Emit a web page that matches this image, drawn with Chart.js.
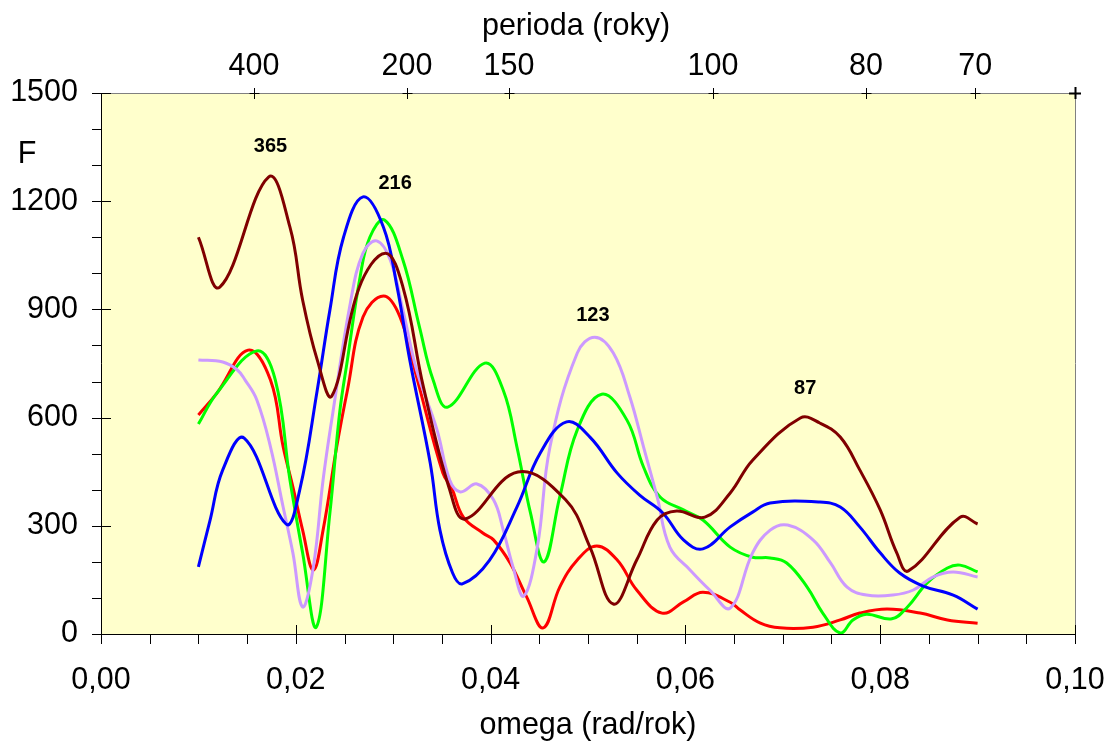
<!DOCTYPE html>
<html>
<head>
<meta charset="utf-8">
<script src="https://cdn.jsdelivr.net/npm/chart.js@4/dist/chart.umd.min.js"></script>
<style>
html, body { margin: 0; padding: 0; background: #fff; }
canvas { display: block; }
</style>
</head>
<body>
<canvas id="myChart" width="1109" height="746"></canvas>
<script>
// omega (rad/rok) and F for each curve
var redX = [0.0100,0.0119,0.0151,0.0174,0.0187,0.0197,0.0207,0.0218,0.0228,0.0242,0.0253,0.0269,0.0290,0.0307,0.0324,0.0351,0.0360,0.0372,0.0392,0.0403,0.0420,0.0437,0.0454,0.0471,0.0489,0.0509,0.0530,0.0550,0.0576,0.0598,0.0618,0.0646,0.0656,0.0677,0.0697,0.0731,0.0759,0.0779,0.0807,0.0841,0.0869,0.0900];
var redF = [607,668,787,704,519,408,288,177,288,519,676,879,937,879,713,446,405,324,280,261,197,103,17,130,205,244,205,122,58,89,116,88,67,30,17,19,39,58,69,58,39,30];

var greenX = [0.0100,0.0119,0.0160,0.0179,0.0194,0.0207,0.0221,0.0235,0.0245,0.0253,0.0266,0.0276,0.0291,0.0310,0.0327,0.0341,0.0356,0.0394,0.0413,0.0427,0.0441,0.0455,0.0471,0.0489,0.0514,0.0540,0.0557,0.0574,0.0598,0.0618,0.0646,0.0669,0.0687,0.0704,0.0725,0.0741,0.0759,0.0772,0.0786,0.0812,0.0828,0.0848,0.0869,0.0882,0.0900];
var greenF = [582,668,785,704,427,225,19,335,613,760,990,1100,1148,1037,851,704,629,751,676,519,335,200,380,566,665,593,463,380,344,316,241,213,211,197,130,58,3,39,55,42,75,141,183,191,172];

var lilacX = [0.0100,0.0125,0.0140,0.0148,0.0160,0.0174,0.0187,0.0197,0.0207,0.0218,0.0228,0.0238,0.0256,0.0269,0.0283,0.0297,0.0310,0.0324,0.0345,0.0358,0.0369,0.0386,0.0403,0.0413,0.0423,0.0434,0.0448,0.0461,0.0489,0.0507,0.0526,0.0543,0.0557,0.0571,0.0584,0.0605,0.0625,0.0646,0.0669,0.0687,0.0705,0.0731,0.0749,0.0766,0.0786,0.0813,0.0834,0.0854,0.0875,0.0900];
var lilacF = [760,754,732,704,649,519,352,225,75,186,427,613,918,1056,1090,1037,898,732,566,427,394,416,372,288,186,105,241,519,779,823,779,657,519,380,241,177,122,72,225,288,302,261,197,130,108,108,122,158,172,158];

var blueX = [0.0100,0.0112,0.0125,0.0147,0.0190,0.0204,0.0222,0.0235,0.0249,0.0269,0.0290,0.0304,0.0317,0.0338,0.0348,0.0361,0.0371,0.0399,0.0427,0.0451,0.0478,0.0502,0.0530,0.0553,0.0577,0.0598,0.0618,0.0646,0.0669,0.0687,0.0738,0.0759,0.0779,0.0800,0.0820,0.0844,0.0875,0.0900];
var blueF = [186,316,455,543,305,399,676,898,1100,1212,1128,962,760,474,288,169,139,205,352,502,588,546,446,385,335,261,236,297,338,363,366,352,297,225,169,133,108,69];

var maroonX = [0.0100,0.0122,0.0172,0.0194,0.0207,0.0222,0.0237,0.0265,0.0292,0.0310,0.0331,0.0358,0.0374,0.0428,0.0477,0.0502,0.0526,0.0550,0.0571,0.0591,0.0620,0.0646,0.0669,0.0718,0.0738,0.0759,0.0779,0.0800,0.0817,0.0829,0.0882,0.0900];
var maroonF = [1100,962,1267,1128,926,760,660,960,1056,962,685,400,319,449,372,241,83,205,316,341,324,391,482,599,585,546,455,344,225,175,324,305];

// top axis: period in years, ticks at omega = 2*pi/T
var periods = [400, 200, 150, 100, 80, 70];

// peak labels
var peakText = ['365', '216', '123', '87'];
var peakX = [0.0174, 0.0302, 0.0505, 0.0723];
var peakF = [1353, 1248, 882, 682];

var FONT = '"Liberation Sans", Arial, Helvetica, sans-serif';

function pts(xs, ys) {
  return xs.map(function (x, i) { return { x: x, y: ys[i] }; });
}

function line(label, color, xs, ys) {
  return {
    label: label,
    data: pts(xs, ys),
    borderColor: color,
    backgroundColor: color,
    borderWidth: 3,
    pointRadius: 0,
    fill: false,
    tension: 0.4
  };
}

function noSidePad(s) {
  s.paddingLeft = 0;
  s.paddingRight = 0;
}

var decor = {
  id: 'decor',
  beforeDraw: function (chart) {
    var a = chart.chartArea, ctx = chart.ctx;
    ctx.save();
    ctx.fillStyle = '#ffffcc';
    ctx.fillRect(a.left, a.top, a.right - a.left, a.bottom - a.top);
    ctx.restore();
  },
  afterDraw: function (chart) {
    var a = chart.chartArea, ctx = chart.ctx;
    var sx = chart.scales.x, sy = chart.scales.y, st = chart.scales.x2;
    ctx.save();
    // frame
    ctx.lineWidth = 1;
    ctx.strokeStyle = '#808080';
    ctx.beginPath();
    ctx.moveTo(a.left, a.top + 0.5); ctx.lineTo(a.right, a.top + 0.5);
    ctx.moveTo(a.right + 0.5, a.top); ctx.lineTo(a.right + 0.5, a.bottom);
    ctx.stroke();
    ctx.strokeStyle = '#000';
    ctx.beginPath();
    ctx.moveTo(a.left + 0.5, a.top); ctx.lineTo(a.left + 0.5, a.bottom + 0.5);
    ctx.lineTo(a.right, a.bottom + 0.5);
    ctx.stroke();

    // y ticks
    ctx.beginPath();
    for (var v = 0; v <= 1500; v += 100) {
      var py = Math.round(sy.getPixelForValue(v)) + 0.5;
      ctx.moveTo(a.left - 9, py);
      ctx.lineTo(v % 300 === 0 ? a.left + 10 : a.left, py);
    }
    // x ticks
    for (var i = 0; i <= 20; i++) {
      var px = Math.round(sx.getPixelForValue(i * 0.005)) + 0.5;
      ctx.moveTo(px, i % 4 === 0 ? a.bottom - 9 : a.bottom);
      ctx.lineTo(px, a.bottom + 10);
    }
    ctx.stroke();

    // "+" marks on the period axis
    ctx.beginPath();
    st.ticks.forEach(function (t) {
      var px = Math.round(st.getPixelForValue(t.value)) + 0.5;
      ctx.moveTo(px - 5, a.top + 0.5); ctx.lineTo(px + 5, a.top + 0.5);
      ctx.moveTo(px, a.top - 5); ctx.lineTo(px, a.top + 6);
    });
    ctx.stroke();
    ctx.lineWidth = 2;
    ctx.beginPath();
    ctx.moveTo(a.right - 6, a.top + 0.5); ctx.lineTo(a.right + 6, a.top + 0.5);
    ctx.moveTo(a.right + 0.5, a.top - 6); ctx.lineTo(a.right + 0.5, a.top + 6);
    ctx.stroke();

    ctx.fillStyle = '#000';
    ctx.textAlign = 'center';
    ctx.textBaseline = 'middle';
    // top axis title (sits a bit left of centre in the original)
    ctx.font = '30.5px ' + FONT;
    ctx.fillText('perioda (roky)', (a.left + a.right) / 2 - 12, 27);
    // axis letter F
    ctx.fillText('F', 27, sy.getPixelForValue(1330));

    // peak labels
    ctx.font = 'bold 20px ' + FONT;
    for (var k = 0; k < peakText.length; k++) {
      ctx.fillText(peakText[k], sx.getPixelForValue(peakX[k]), sy.getPixelForValue(peakF[k]));
    }
    ctx.restore();
  }
};

var tickFont = { size: 30.5, family: FONT };

new Chart(document.getElementById('myChart'), {
  type: 'line',
  data: {
    datasets: [
      line('maroon', '#800000', maroonX, maroonF),
      line('blue', '#0000ff', blueX, blueF),
      line('lilac', '#cc99ff', lilacX, lilacF),
      line('green', '#00ff00', greenX, greenF),
      line('red', '#ff0000', redX, redF)
    ]
  },
  options: {
    responsive: false,
    animation: false,
    events: [],
    layout: { padding: { right: 34, left: 0, top: 0, bottom: 0 } },
    plugins: { legend: { display: false }, tooltip: { enabled: false } },
    scales: {
      x: {
        type: 'linear', position: 'bottom', min: 0, max: 0.1,
        grid: { display: false, drawTicks: false, tickLength: 0 },
        border: { display: false },
        ticks: {
          stepSize: 0.02, padding: 28, color: '#000', font: tickFont, maxRotation: 0,
          callback: function (v) { return v.toFixed(2).replace('.', ','); }
        },
        title: { display: true, text: 'omega (rad/rok)', color: '#000', font: tickFont, padding: { top: 0, bottom: 2 } },
        afterFit: function (s) { s.height = 112; noSidePad(s); }
      },
      x2: {
        type: 'linear', position: 'top', min: 0, max: 0.1,
        grid: { display: false, drawTicks: false, tickLength: 0 },
        border: { display: false },
        afterBuildTicks: function (s) {
          s.ticks = periods.map(function (p) { return { value: 2 * Math.PI / p }; });
        },
        ticks: {
          autoSkip: false, padding: 8, color: '#000', font: tickFont, maxRotation: 0,
          callback: function (v, i) { return String(periods[i]); }
        },
        afterFit: function (s) { s.height = 93; noSidePad(s); }
      },
      y: {
        type: 'linear', min: 0, max: 1500,
        grid: { display: false, drawTicks: false, tickLength: 0 },
        border: { display: false },
        ticks: {
          stepSize: 300, padding: 23, color: '#000', font: tickFont,
          callback: function (v) { return String(v); }
        },
        afterFit: function (s) { s.width = 101; }
      }
    }
  },
  plugins: [decor]
});
</script>
</body>
</html>
